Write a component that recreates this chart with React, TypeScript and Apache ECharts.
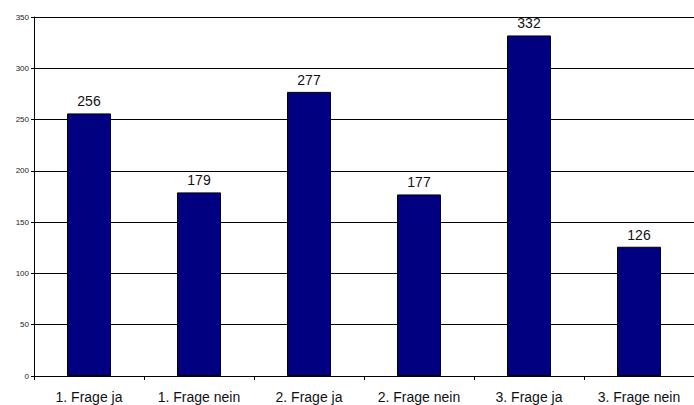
import React, { useEffect, useRef } from "react";
import * as echarts from "echarts";

const categories = [
  "1. Frage ja",
  "1. Frage nein",
  "2. Frage ja",
  "2. Frage nein",
  "3. Frage ja",
  "3. Frage nein",
];
const values = [256, 179, 277, 177, 332, 126];

const FONT = "Liberation Sans, Arial, sans-serif";

export default function App() {
  const ref = useRef<HTMLDivElement>(null);

  useEffect(() => {
    if (!ref.current) return;
    const chart = echarts.init(ref.current, null, { renderer: "svg" });
    chart.setOption({
      animation: false,
      grid: { left: 34, right: 0, top: 17, bottom: 29, containLabel: false },
      xAxis: {
        type: "category",
        data: categories,
        axisLine: { lineStyle: { color: "#000", width: 1 } },
        axisTick: { show: true, alignWithLabel: false, length: 4, lineStyle: { color: "#000" } },
        axisLabel: {
          fontFamily: FONT,
          fontSize: 14,
          color: "#111",
          margin: 14,
          interval: 0,
        },
      },
      yAxis: {
        type: "value",
        min: 0,
        max: 350,
        interval: 50,
        axisLine: { show: true, lineStyle: { color: "#000", width: 1 } },
        axisTick: { show: true, length: 3, lineStyle: { color: "#000" } },
        axisLabel: {
          fontFamily: FONT,
          fontSize: 8,
          color: "#222",
          margin: 5,
        },
        splitLine: { show: true, lineStyle: { color: "#000", width: 1 } },
      },
      series: [
        {
          type: "bar",
          data: values,
          barWidth: "40%",
          itemStyle: { color: "#000080", borderColor: "#000", borderWidth: 1 },
          label: {
            show: true,
            position: "top",
            distance: 5,
            fontFamily: FONT,
            fontSize: 14,
            color: "#111",
          },
        },
      ],
    });
    return () => chart.dispose();
  }, []);

  return <div ref={ref} style={{ width: 694, height: 405, position: "absolute", left: 0, top: 0 }} />;
}
